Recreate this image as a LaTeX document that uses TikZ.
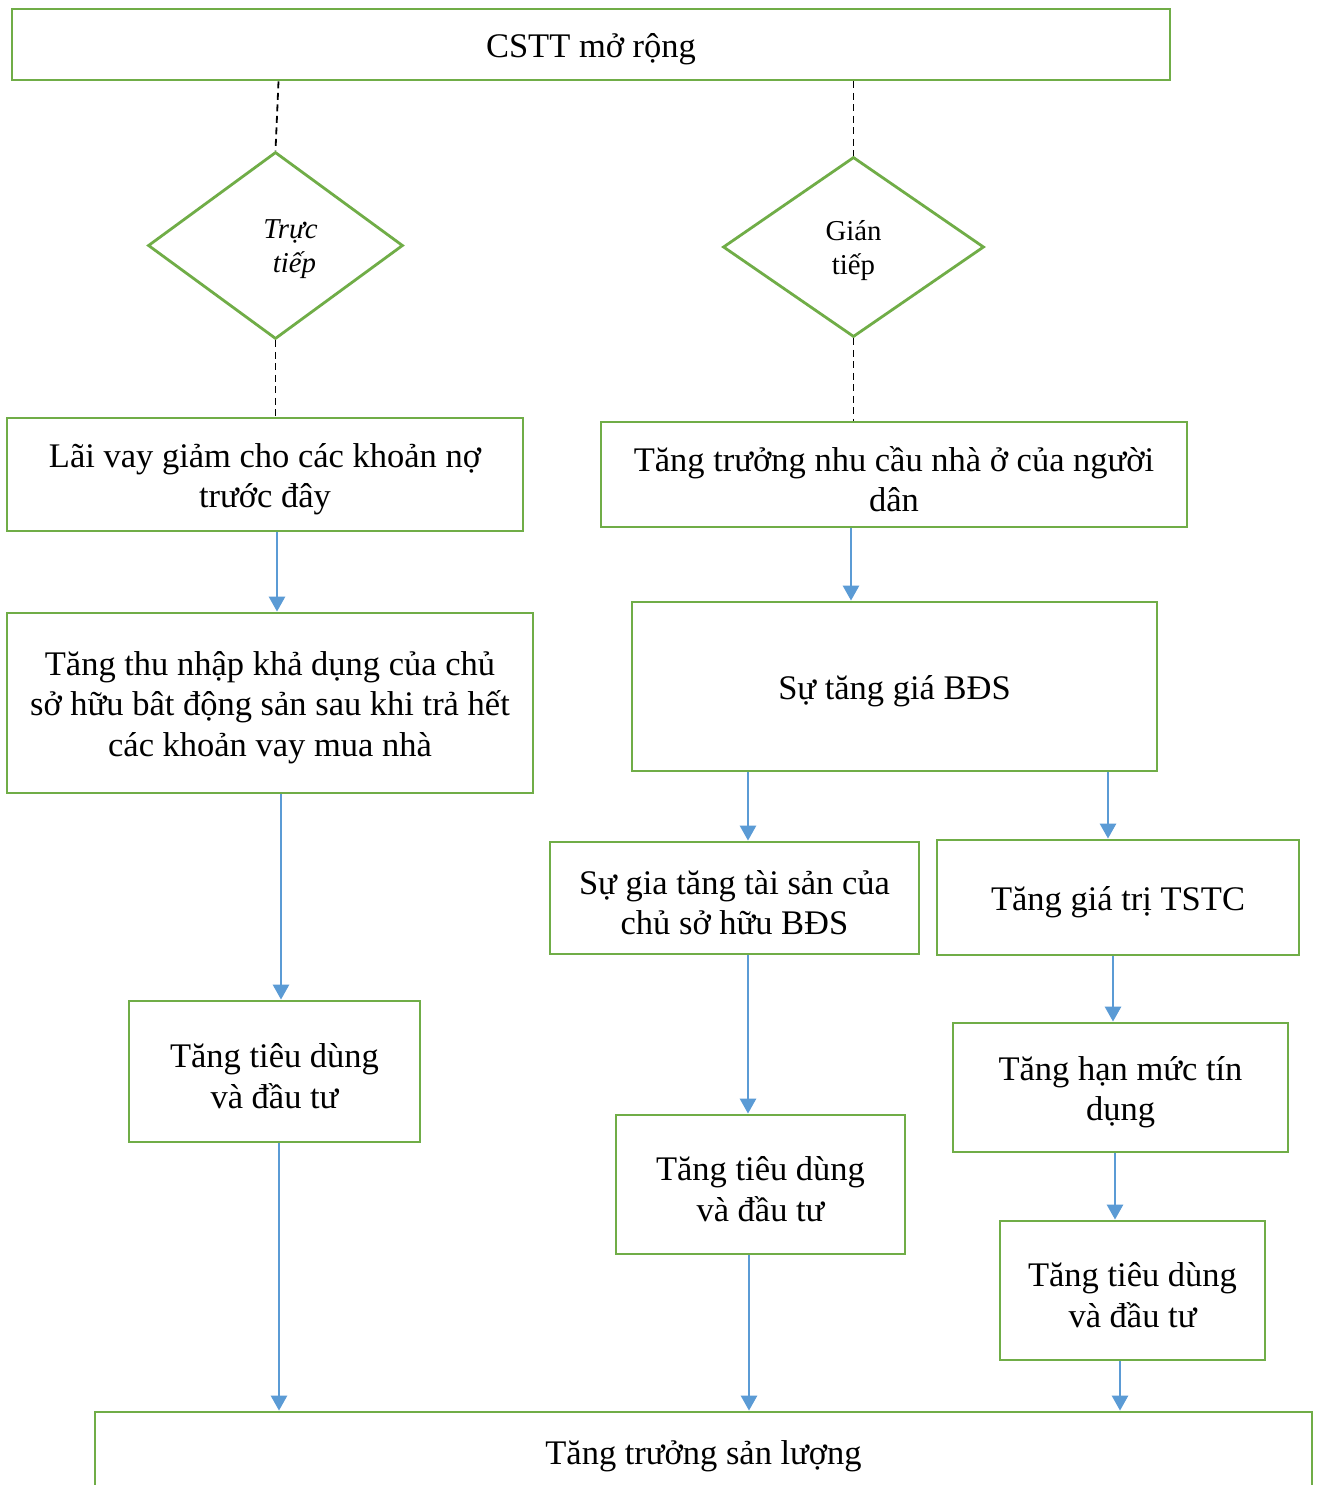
\documentclass[tikz,border=0pt]{standalone}
\usepackage{fontspec}
\setmainfont{Liberation Serif}
\usetikzlibrary{shapes.geometric,arrows.meta}
\definecolor{boxgreen}{HTML}{70AD47}
\definecolor{arrblue}{HTML}{5B9BD5}
\begin{document}
\begin{tikzpicture}[x=1pt,y=-1pt,
  box/.style={draw=boxgreen,line width=2.8pt,inner sep=0pt},
  txt/.style={align=center,inner sep=0pt,yshift=-4.5pt,
    font=\fontsize{34.5}{40.5}\selectfont},
  dtxt/.style={align=center,inner sep=0pt,yshift=-4pt,
    font=\fontsize{28.8}{34}\selectfont},
  dia/.style={draw=boxgreen,diamond,line width=2.8pt,inner sep=0pt},
  arr/.style={draw=arrblue,line width=2.7pt,-{Triangle[width=16pt,length=15pt]}},
  dashln/.style={black,line width=1.8pt,dash pattern=on 7pt off 4.5pt}]
\useasboundingbox (0,0) rectangle (1317,1485);
\clip (0,0) rectangle (1317,1485);
\fill[white] (0,0) rectangle (1317,1485);

\node[box,minimum width=1158pt,minimum height=71pt,
  label={[txt]center:CSTT mở rộng}] (top) at (591,44.5) {};

\node[dia,minimum width=255pt,minimum height=187pt,
  label={[dtxt,xshift=15pt,font=\fontsize{28.8}{34}\selectfont\itshape]center:Trực\\\hspace*{8pt}tiếp}]
  (d1) at (275.5,245.5) {};
\node[dia,minimum width=261pt,minimum height=180pt,
  label={[dtxt]center:Gián\\tiếp}] (d2) at (853.5,247) {};

\node[box,minimum width=516pt,minimum height=113pt,
  label={[txt]center:Lãi vay giảm cho các khoản nợ\\trước đây}] (L1) at (265,474.5) {};
\node[box,minimum width=526pt,minimum height=180pt,
  label={[txt]center:Tăng thu nhập khả dụng của chủ\\sở hữu bât động sản sau khi trả hết\\các khoản vay mua nhà}]
  (L2) at (270,703) {};
\node[box,minimum width=291pt,minimum height=141pt,
  label={[txt]center:Tăng tiêu dùng\\và đầu tư}] (L3) at (274.5,1071.5) {};

\node[box,minimum width=586pt,minimum height=105pt,
  label={[txt]center:Tăng trưởng nhu cầu nhà ở của người\\dân}] (R1) at (894,474.5) {};
\node[box,minimum width=525pt,minimum height=169pt,
  label={[txt]center:Sự tăng giá BĐS}] (R2) at (894.5,686.5) {};
\node[box,minimum width=369pt,minimum height=112pt,
  label={[txt]center:Sự gia tăng tài sản của\\chủ sở hữu BĐS}] (R3) at (734.5,898) {};
\node[box,minimum width=362pt,minimum height=115pt,
  label={[txt]center:Tăng giá trị TSTC}] (R4) at (1118,897.5) {};
\node[box,minimum width=289pt,minimum height=139pt,
  label={[txt]center:Tăng tiêu dùng\\và đầu tư}] (R5) at (760.5,1184.5) {};
\node[box,minimum width=335pt,minimum height=129pt,
  label={[txt]center:Tăng hạn mức tín\\dụng}] (R6) at (1120.5,1087.5) {};
\node[box,minimum width=265pt,minimum height=139pt,
  label={[txt]center:Tăng tiêu dùng\\và đầu tư}] (R7) at (1132.5,1290.5) {};

\node[box,minimum width=1217pt,minimum height=80pt,
  label={[txt]center:Tăng trưởng sản lượng}] (B) at (703.5,1452) {};

% dashed connectors
\draw[dashln] ([xshift=3pt]top.south -| d1.north) -- (d1.north);
\draw[dashln] (d1.south) -- (d1.south |- L1.north);
\draw[dashln] (top.south -| d2.north) -- (d2.north);
\draw[dashln] (d2.south) -- (d2.south |- R1.north);

% arrows
\draw[arr] ([xshift=12pt]L1.south) -- ([xshift=12pt]L1.south |- L2.north);
\draw[arr] ([xshift=11pt]L2.south) -- ([xshift=11pt]L2.south |- L3.north);
\draw[arr] ([xshift=4.5pt]L3.south) -- ([xshift=4.5pt]L3.south |- B.north);
\draw[arr] ([xshift=-43pt]R1.south) -- ([xshift=-43pt]R1.south |- R2.north);
\draw[arr] ([xshift=-146.5pt]R2.south) -- ([xshift=-146.5pt]R2.south |- R3.north);
\draw[arr] ([xshift=213.5pt]R2.south) -- ([xshift=213.5pt]R2.south |- R4.north);
\draw[arr] ([xshift=13.5pt]R3.south) -- ([xshift=13.5pt]R3.south |- R5.north);
\draw[arr] ([xshift=-11.5pt]R5.south) -- ([xshift=-11.5pt]R5.south |- B.north);
\draw[arr] ([xshift=-5pt]R4.south) -- ([xshift=-5pt]R4.south |- R6.north);
\draw[arr] ([xshift=-5.5pt]R6.south) -- ([xshift=-5.5pt]R6.south |- R7.north);
\draw[arr] ([xshift=-12.5pt]R7.south) -- ([xshift=-12.5pt]R7.south |- B.north);
\end{tikzpicture}
\end{document}
